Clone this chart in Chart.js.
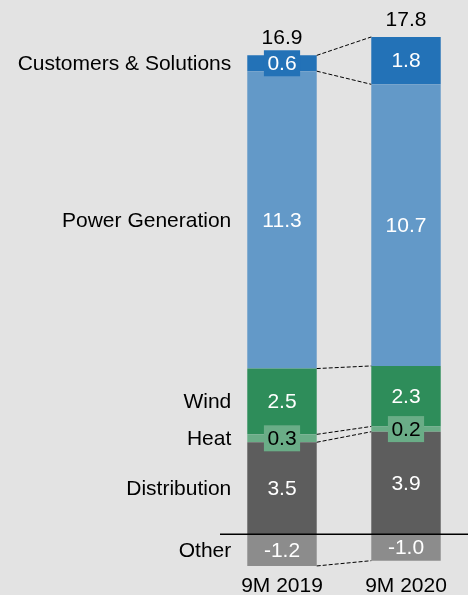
<!DOCTYPE html>
<html>
<head>
<meta charset="utf-8">
<script src="https://cdn.jsdelivr.net/npm/chart.js@4/dist/chart.umd.min.js"></script>
<style>
  html, body { margin: 0; padding: 0; background: #e3e3e3; }
  canvas { display: block; }
</style>
</head>
<body>
<canvas id="chart" width="468" height="595"></canvas>
<script>
const periods = ["9M 2019", "9M 2020"];
const distribution = [3.5, 3.9];
const heat = [0.3, 0.2];
const wind = [2.5, 2.3];
const powerGeneration = [11.3, 10.7];
const customers = [0.6, 1.8];
const other = [-1.2, -1.0];
const totals = [16.9, 17.8];

const FONT = '21px "Liberation Sans", Arial, sans-serif';

// labels, connectors, zero line and totals
const overlay = {
  id: "overlay",
  afterDatasetsDraw(chart) {
    const { ctx, chartArea, scales } = chart;
    const y0 = scales.y.getPixelForValue(0);
    ctx.save();

    ctx.strokeStyle = "#000";
    ctx.lineWidth = 1;
    ctx.setLineDash([4, 2]);
    chart.data.datasets.forEach((ds, i) => {
      const [a, b] = chart.getDatasetMeta(i).data;
      ctx.beginPath();
      ctx.moveTo(a.x + a.width / 2, a.y);
      ctx.lineTo(b.x - b.width / 2, b.y);
      ctx.stroke();
    });
    ctx.setLineDash([]);

    ctx.lineWidth = 1.5;
    ctx.beginPath();
    ctx.moveTo(chartArea.left, y0);
    ctx.lineTo(chart.width, y0);
    ctx.stroke();

    ctx.font = FONT;
    ctx.textBaseline = "middle";
    chart.data.datasets.forEach((ds, i) => {
      chart.getDatasetMeta(i).data.forEach((el, j) => {
        const cy = (el.y + el.base) / 2;
        const txt = ds.data[j].toFixed(1);
        ctx.textAlign = "center";
        if (Math.abs(el.base - el.y) < 26) {
          const w = ctx.measureText(txt).width + 7;
          ctx.fillStyle = ds.backgroundColor;
          ctx.fillRect(el.x - w / 2, cy - 13, w, 26);
        }
        ctx.fillStyle = ds.labelColor;
        ctx.fillText(txt, el.x, cy + 1);
        if (j === 0) {
          ctx.textAlign = "right";
          ctx.fillStyle = "#000";
          ctx.fillText(ds.label, el.x - el.width / 2 - 16, cy + 1);
        }
      });
    });

    ctx.textAlign = "center";
    ctx.fillStyle = "#000";
    totals.forEach((t, j) => {
      let top = y0, x = 0;
      chart.data.datasets.forEach((ds, i) => {
        const el = chart.getDatasetMeta(i).data[j];
        x = el.x;
        top = Math.min(top, el.y);
      });
      ctx.fillText(t.toFixed(1), x, top - 17);
    });
    ctx.restore();
  }
};

new Chart(document.getElementById("chart").getContext("2d"), {
  type: "bar",
  plugins: [overlay],
  options: {
    responsive: false,
    animation: false,
    layout: { padding: { left: 220, right: -3, top: 8, bottom: -6 } },
    plugins: {
      legend: { display: false },
      tooltip: { enabled: false },
    },
    datasets: {
      bar: { categoryPercentage: 1, barPercentage: 0.56 },
    },
    scales: {
      x: {
        stacked: true,
        grid: { display: false, drawTicks: false },
        border: { display: false },
        ticks: {
          padding: 4,
          color: "#000",
          font: { family: '"Liberation Sans", Arial, sans-serif', size: 21, lineHeight: 1 },
        },
      },
      y: {
        stacked: true,
        display: false,
        min: -1.43,
        max: 20,
      },
    },
  },
  data: {
    labels: periods,
    datasets: [
      { label: "Distribution", data: distribution, backgroundColor: "#5d5d5d", labelColor: "#fff" },
      { label: "Heat", data: heat, backgroundColor: "#6aad87", labelColor: "#000" },
      { label: "Wind", data: wind, backgroundColor: "#2e8d5a", labelColor: "#fff" },
      { label: "Power Generation", data: powerGeneration, backgroundColor: "#6399c8", labelColor: "#fff" },
      { label: "Customers & Solutions", data: customers, backgroundColor: "#2372b7", labelColor: "#fff" },
      { label: "Other", data: other, backgroundColor: "#8c8c8c", labelColor: "#fff" },
    ],
  },
});
</script>
</body>
</html>
